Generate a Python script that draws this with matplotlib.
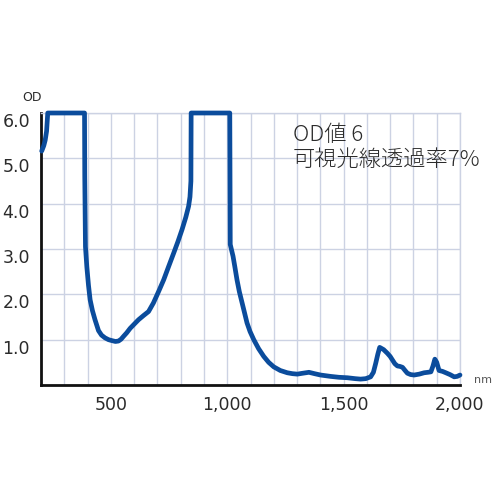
import matplotlib.pyplot as plt

# wavelength (nm) and optical density
wavelength = [203, 212, 218, 224, 229, 387, 388, 391, 397, 404, 411, 421, 432, 447,
              460, 475, 490, 504, 520, 533, 544, 554, 568, 583, 600, 619, 640,
              662, 683, 705, 727, 748, 770, 788, 806, 822, 834, 840, 844, 845,
              1011, 1013, 1019, 1025, 1033, 1042, 1052, 1064, 1075, 1085, 1098,
              1114, 1135, 1157, 1178, 1200, 1228, 1258, 1280, 1301, 1325, 1351,
              1375, 1401, 1444, 1480, 1516, 1550, 1573, 1595, 1616, 1628, 1638,
              1647, 1655, 1672, 1688, 1700, 1710, 1720, 1731, 1742, 1753, 1764,
              1774, 1788, 1803, 1825, 1846, 1862, 1875, 1884, 1892, 1900, 1910,
              1925, 1939, 1957, 1975, 1988, 2000]
od = [5.16, 5.28, 5.4, 5.6, 6.0, 6.0, 4.6, 3.05, 2.6, 2.2, 1.88, 1.64, 1.44, 1.2,
      1.1, 1.04, 1.0, 0.98, 0.96, 0.97, 1.01, 1.07, 1.15, 1.25, 1.34, 1.44, 1.53,
      1.62, 1.81, 2.06, 2.32, 2.61, 2.91, 3.16, 3.43, 3.70, 3.94, 4.15, 4.5, 6.0,
      6.0, 3.1, 2.97, 2.84, 2.6, 2.32, 2.06, 1.81, 1.58, 1.37, 1.18,
      1.0, 0.8, 0.63, 0.5, 0.40, 0.32, 0.27, 0.25, 0.24, 0.26, 0.28,
      0.25, 0.22, 0.19, 0.17, 0.16, 0.14, 0.13, 0.14, 0.18, 0.28, 0.48,
      0.68, 0.83, 0.78, 0.70, 0.63, 0.55, 0.47, 0.42, 0.41, 0.39, 0.32,
      0.26, 0.23, 0.22, 0.24, 0.27, 0.28, 0.29, 0.42, 0.57, 0.50, 0.32,
      0.30, 0.27, 0.23, 0.18, 0.19, 0.22]

x_ticks = [500, 1000, 1500, 2000]
x_labels = ['500', '1,000', '1,500', '2,000']
y_ticks = [1, 2, 3, 4, 5, 6]
y_labels = ['1.0', '2.0', '3.0', '4.0', '5.0', '6.0']

grid_color = '#ccd2e3'
line_color = '#0b4c9c'
text_color = '#2b2b2b'

fig = plt.figure(figsize=(5, 5), dpi=100)
ax = fig.add_axes([0.082, 0.23, 0.838, 0.544])

ax.plot(wavelength, od, color=line_color, lw=3.4, solid_joinstyle='round',
        solid_capstyle='round', clip_on=False, zorder=3)

ax.set_xlim(200, 2000)
ax.set_ylim(0, 6)
ax.set_xticks(x_ticks)
ax.set_xticklabels(x_labels)
ax.set_xticks(range(300, 2001, 100), minor=True)
ax.set_yticks(y_ticks)
ax.set_yticklabels(y_labels)
ax.grid(True, which='both', color=grid_color, lw=1.0, zorder=0)
ax.tick_params(which='both', length=0)
ax.tick_params(axis='x', pad=8, labelsize=12.5, labelcolor=text_color)
ax.tick_params(axis='y', pad=8, labelsize=12.5, labelcolor=text_color)
for lbl in ax.get_yticklabels():
    lbl.set_va('top')

for side in ['top', 'right']:
    ax.spines[side].set_color(grid_color)
    ax.spines[side].set_linewidth(1.0)
for side in ['left', 'bottom']:
    ax.spines[side].set_color('#111111')
    ax.spines[side].set_linewidth(2.0)

fig.text(0.064, 0.805, 'OD', fontsize=9, color=text_color, ha='center', va='center')
fig.text(0.966, 0.24, 'nm', fontsize=8, color='#555555', ha='center', va='center')

cjk = ['Noto Sans CJK JP', 'DejaVu Sans']
fig.text(0.586, 0.73, 'OD値 6', fontsize=16, family=cjk, weight='light',
         color=text_color, va='center')
fig.text(0.586, 0.68, '可視光線透過率7%', fontsize=16, family=cjk, weight='light',
         color=text_color, va='center')

fig.savefig('out.png', dpi=100)
